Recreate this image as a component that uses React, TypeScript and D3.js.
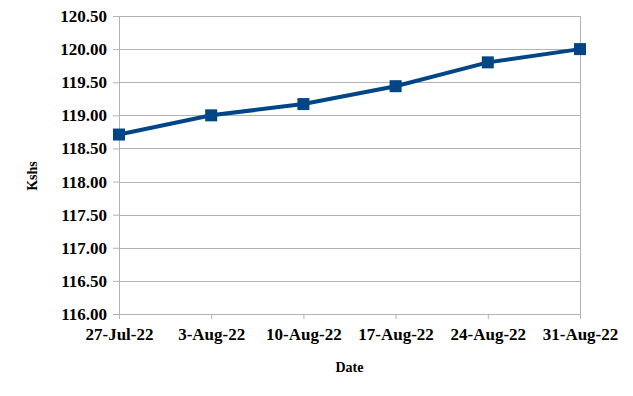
import React, { useEffect, useRef } from 'react'
import * as d3 from 'd3'

const dates = ['27-Jul-22', '3-Aug-22', '10-Aug-22', '17-Aug-22', '24-Aug-22', '31-Aug-22']
const rates = [118.71, 119.0, 119.17, 119.44, 119.8, 120.0]
const yTicks = [116, 116.5, 117, 117.5, 118, 118.5, 119, 119.5, 120, 120.5]

const W = 633
const H = 396
const margin = { top: 16, right: 53, bottom: 82, left: 119 }
const font = '"Liberation Serif", "Times New Roman", serif'
const blue = '#004586'
const grid = '#b3b3b3'

function App() {
  const ref = useRef<SVGSVGElement>(null)

  useEffect(() => {
    const svg = d3.select(ref.current)
    svg.selectAll('*').remove()
    const iw = W - margin.left - margin.right
    const ih = H - margin.top - margin.bottom

    const x = d3.scalePoint<string>().domain(dates).range([0, iw])
    const y = d3.scaleLinear().domain([116, 120.5]).range([ih, 0])

    const g = svg.append('g').attr('transform', `translate(${margin.left},${margin.top})`)

    // gridlines
    g.selectAll('.grid')
      .data(yTicks)
      .join('line')
      .attr('x1', 0)
      .attr('x2', iw)
      .attr('y1', d => Math.round(y(d)) + 0.5)
      .attr('y2', d => Math.round(y(d)) + 0.5)
      .attr('stroke', grid)

    // y axis
    const ya = g.append('g').call(
      d3.axisLeft(y).tickValues(yTicks).tickSize(6).tickPadding(6).tickFormat(d3.format('.2f'))
    )
    ya.attr('font-family', font)
    ya.select('.domain').attr('stroke', grid)
    ya.selectAll('.tick line').attr('stroke', grid)
    ya.selectAll('text')
      .attr('font-family', font)
      .attr('font-weight', 'bold')
      .attr('font-size', 17)
      .attr('fill', '#000')

    // right border
    g.append('line')
      .attr('x1', iw + 0.5).attr('x2', iw + 0.5)
      .attr('y1', 0).attr('y2', ih)
      .attr('stroke', grid)

    // x axis
    const xa = g.append('g')
      .attr('transform', `translate(0,${ih})`)
      .call(d3.axisBottom(x).tickSize(5).tickPadding(9))
    xa.attr('font-family', font)
    xa.select('.domain').attr('stroke', grid)
    xa.selectAll('.tick line').attr('stroke', grid)
    xa.selectAll('text')
      .attr('font-family', font)
      .attr('font-weight', 'bold')
      .attr('font-size', 17)
      .attr('fill', '#000')

    // line
    const line = d3.line<number>()
      .x((_, i) => x(dates[i]) as number)
      .y(d => y(d))
    g.append('path')
      .datum(rates)
      .attr('d', line)
      .attr('fill', 'none')
      .attr('stroke', blue)
      .attr('stroke-width', 4)

    g.selectAll('.pt')
      .data(rates)
      .join('rect')
      .attr('x', (_, i) => (x(dates[i]) as number) - 6)
      .attr('y', d => y(d) - 6)
      .attr('width', 12)
      .attr('height', 12)
      .attr('fill', blue)

    // axis titles
    svg.append('text')
      .attr('x', margin.left + iw / 2)
      .attr('y', 372)
      .attr('text-anchor', 'middle')
      .attr('font-family', font)
      .attr('font-weight', 'bold')
      .attr('font-size', 14)
      .text('Date')

    svg.append('text')
      .attr('transform', `translate(37,176) rotate(-90)`)
      .attr('text-anchor', 'middle')
      .attr('font-family', font)
      .attr('font-weight', 'bold')
      .attr('font-size', 14)
      .text('Kshs')
  }, [])

  return (
    <svg
      ref={ref}
      width={W}
      height={H}
      style={{ position: 'absolute', left: 0, top: 0, background: '#fff' }}
    />
  )
}

export default App
